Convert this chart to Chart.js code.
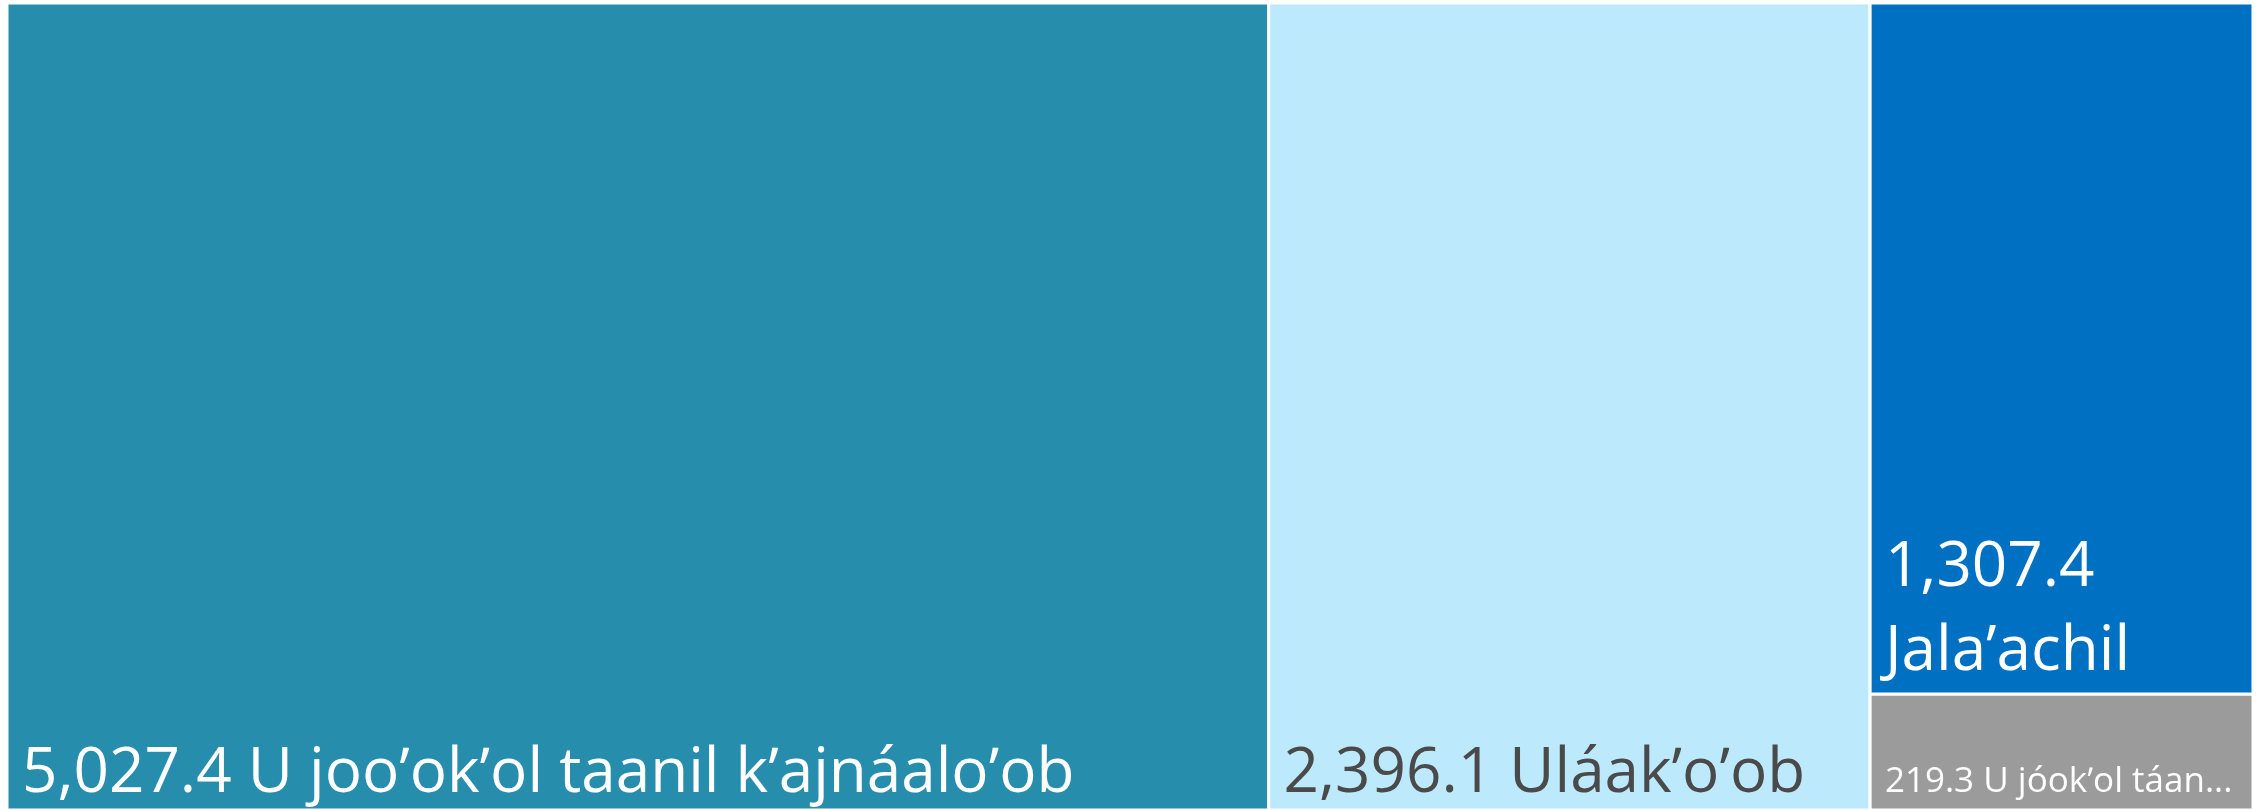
<!DOCTYPE html>
<html>
<head>
<meta charset="utf-8">
<script src="https://cdn.jsdelivr.net/npm/chart.js@4/dist/chart.umd.min.js"></script>
<style>
  html, body { margin: 0; padding: 0; background: #fff; }
  #wrap { width: 2267px; height: 810px; }
</style>
</head>
<body>
<div id="wrap"><canvas id="chart"></canvas></div>
<script>
// data
var names = ['U jooʼokʼol taanil kʼajnáaloʼob', 'Uláakʼoʼob', 'Jala’achil', 'U jóokʼol táanil kʼajnáaloʼob'];
var values = [5027.4, 2396.1, 1307.4, 219.3];

// look
var colors = ['#278dad', '#bde9fc', '#0071c2', '#9b9b9b'];
var textColors = ['#ffffff', '#4a4a4a', '#ffffff', '#ffffff'];
var fontSizes = [62, 62, 62, 35];

var H = 100;
var W = H * (2267 - 21) / (810 - 3);

// squarified layout, rects in value space (y grows downward)
function worst(row, side) {
    var s = 0, mx = 0, mn = Infinity;
    row.forEach(function (r) { s += r.a; mx = Math.max(mx, r.a); mn = Math.min(mn, r.a); });
    return Math.max(side * side * mx / (s * s), (s * s) / (side * side * mn));
}
function layoutRow(row, r, out) {
    var s = 0;
    row.forEach(function (it) { s += it.a; });
    if (r.w >= r.h) {
        var cw = s / r.h, y = r.y;
        row.forEach(function (it) {
            var h = it.a / cw;
            out[it.i] = { x: r.x, y: y, w: cw, h: h };
            y += h;
        });
        return { x: r.x + cw, y: r.y, w: r.w - cw, h: r.h };
    }
    var rh = s / r.w, x = r.x;
    row.forEach(function (it) {
        var w = it.a / rh;
        out[it.i] = { x: x, y: r.y, w: w, h: rh };
        x += w;
    });
    return { x: r.x, y: r.y + rh, w: r.w, h: r.h - rh };
}
function squarify(vals, rect) {
    var total = vals.reduce(function (a, b) { return a + b; }, 0);
    var items = vals.map(function (v, i) { return { i: i, a: v / total * rect.w * rect.h }; });
    var out = [], row = [], r = rect;
    while (items.length) {
        var side = Math.min(r.w, r.h);
        if (!row.length || worst(row.concat(items[0]), side) <= worst(row, side)) {
            row.push(items.shift());
        } else {
            r = layoutRow(row, r, out);
            row = [];
        }
    }
    if (row.length) layoutRow(row, r, out);
    return out;
}

var cells = squarify(values, { x: 0, y: 0, w: W, h: H });

var datasets = cells.map(function (c, i) {
    return {
        label: names[i],
        data: [
            { x: c.x, y: c.y }, { x: c.x + c.w, y: c.y },
            { x: c.x + c.w, y: c.y + c.h }, { x: c.x, y: c.y + c.h },
            { x: c.x, y: c.y }
        ],
        backgroundColor: colors[i],
        borderColor: '#ffffff',
        borderWidth: 3,
        fill: 'shape',
        tension: 0,
        pointRadius: 0,
        pointHoverRadius: 0
    };
});

function fmt(v) {
    return v.toLocaleString('en-US', { minimumFractionDigits: 1, maximumFractionDigits: 1 });
}

var cellLabels = {
    id: 'cellLabels',
    afterDatasetsDraw: function (chart) {
        var ctx = chart.ctx, xs = chart.scales.x, ys = chart.scales.y;
        cells.forEach(function (c, i) {
            var left = xs.getPixelForValue(c.x), right = xs.getPixelForValue(c.x + c.w);
            var top = ys.getPixelForValue(c.y), bottom = ys.getPixelForValue(c.y + c.h);
            var size = fontSizes[i], pad = 15, lh = 84;
            var maxW = right - left - 2 * pad;
            ctx.save();
            ctx.font = size + 'px "Open Sans", "Noto Sans", sans-serif';
            ctx.fillStyle = textColors[i];
            ctx.textBaseline = 'alphabetic';
            var text = fmt(values[i]) + ' ' + names[i];
            var lines = [];
            var maxLines = Math.max(1, Math.floor((bottom - top - 2 * pad) / lh));
            if (ctx.measureText(text).width <= maxW) {
                lines = [text];
            } else if (maxLines > 1) {
                var words = text.split(' '), cur = '';
                words.forEach(function (w) {
                    var t = cur ? cur + ' ' + w : w;
                    if (cur && ctx.measureText(t).width > maxW) { lines.push(cur); cur = w; }
                    else cur = t;
                });
                if (cur) lines.push(cur);
            } else {
                var t = text;
                while (t.length && ctx.measureText(t + '...').width > maxW) t = t.slice(0, -1);
                lines = [t.replace(/\s+$/, '') + '...'];
            }
            var y = bottom - (lines.length > 1 ? 24 : 18);
            for (var k = lines.length - 1; k >= 0; k--) {
                ctx.fillText(lines[k], left + pad, y);
                y -= lh;
            }
            ctx.restore();
        });
    }
};

new Chart(document.getElementById('chart'), {
    type: 'line',
    data: { datasets: datasets },
    options: {
        responsive: true,
        maintainAspectRatio: false,
        animation: false,
        layout: { padding: { left: 7, right: 14, top: 3, bottom: 0 } },
        plugins: { legend: { display: false }, tooltip: { enabled: false } },
        scales: {
            x: { type: 'linear', min: 0, max: W, display: false },
            y: { type: 'linear', min: 0, max: H, reverse: true, display: false }
        }
    },
    plugins: [cellLabels]
});
</script>
</body>
</html>
